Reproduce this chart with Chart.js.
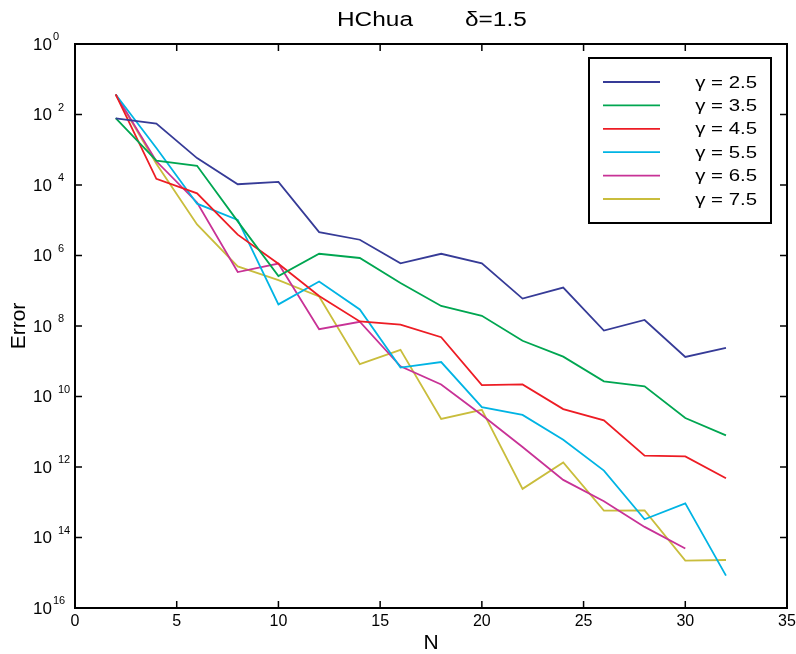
<!DOCTYPE html>
<html>
<head>
<meta charset="utf-8">
<script src="https://cdn.jsdelivr.net/npm/chart.js@4.4.0/dist/chart.umd.min.js"></script>
<style>
  html, body { margin: 0; padding: 0; background: #fff; }
</style>
</head>
<body>
<canvas id="myChart" width="796" height="654"></canvas>
<script>
// data
const N = [2, 4, 6, 8, 10, 12, 14, 16, 18, 20, 22, 24, 26, 28, 30, 32];
const err25 = [7.8e-3, 5.5e-3, 5.8e-4, 1.05e-4, 1.23e-4, 4.6e-6, 2.8e-6, 6.0e-7, 1.12e-6, 6.0e-7, 6.0e-8, 1.23e-7, 7.4e-9, 1.48e-8, 1.32e-9, 2.4e-9];
const err35 = [7.9e-3, 4.9e-4, 3.5e-4, 9.3e-6, 2.6e-7, 1.12e-6, 8.5e-7, 1.66e-7, 3.7e-8, 1.95e-8, 3.8e-9, 1.35e-9, 2.7e-10, 1.95e-10, 2.45e-11, 7.9e-12];
const err45 = [3.7e-2, 1.5e-4, 5.8e-5, 3.9e-6, 5.8e-7, 7.1e-8, 1.35e-8, 1.1e-8, 4.8e-9, 2.1e-10, 2.2e-10, 4.4e-11, 2.1e-11, 2.1e-12, 2.0e-12, 4.8e-13];
const err55 = [3.7e-2, 1.12e-3, 2.95e-5, 1.02e-5, 4.1e-8, 1.82e-7, 2.95e-8, 6.6e-10, 9.5e-10, 5.0e-11, 3.0e-11, 5.9e-12, 7.9e-13, 3.3e-14, 9.3e-14, 8.3e-16];
const err65 = [3.7e-2, 4.7e-4, 3.2e-5, 3.4e-7, 5.9e-7, 8.1e-9, 1.32e-8, 7.2e-10, 2.2e-10, 3.0e-11, 3.7e-12, 4.3e-13, 1.07e-13, 2.0e-14, 4.9e-15];
const err75 = [3.7e-2, 4.0e-4, 7.6e-6, 4.9e-7, 2.0e-7, 6.9e-8, 8.3e-10, 2.1e-9, 2.3e-11, 4.2e-11, 2.4e-13, 1.35e-12, 5.8e-14, 5.9e-14, 2.2e-15, 2.3e-15];

const seriesLabels = ["\u03b3 = 2.5", "\u03b3 = 3.5", "\u03b3 = 4.5", "\u03b3 = 5.5", "\u03b3 = 6.5", "\u03b3 = 7.5"];
const seriesData = [err25, err35, err45, err55, err65, err75];
const colors = ["#363b97", "#00a651", "#ed1c24", "#00b4e4", "#c83296", "#c9bd3c"];

const xTicks = [0, 5, 10, 15, 20, 25, 30, 35];
const yTickExp = [0, -2, -4, -6, -8, -10, -12, -14, -16];

const FONT = '"Liberation Sans", Arial, sans-serif';

// draws the matlab-ish box, ticks, labels and legend
const boxPlugin = {
  id: "boxAxes",
  afterDraw: (chart) => {
    const { ctx, chartArea: a } = chart;
    const xs = chart.scales.x;
    const ys = chart.scales.y;
    ctx.save();
    ctx.strokeStyle = "#000";
    ctx.fillStyle = "#000";
    ctx.lineWidth = 2;
    ctx.strokeRect(a.left, a.top, a.right - a.left, a.bottom - a.top);

    // x ticks
    ctx.lineWidth = 1.5;
    ctx.font = "16px " + FONT;
    ctx.textAlign = "center";
    ctx.textBaseline = "middle";
    xTicks.forEach((t) => {
      const px = xs.getPixelForValue(t);
      ctx.beginPath();
      ctx.moveTo(px, a.bottom);
      ctx.lineTo(px, a.bottom - 7);
      ctx.moveTo(px, a.top);
      ctx.lineTo(px, a.top + 7);
      ctx.stroke();
      ctx.fillText(String(t), px, a.bottom + 14);
    });

    // y ticks, 10^e labels (minus sign missing like the original)
    yTickExp.forEach((e) => {
      const py = ys.getPixelForValue(Math.pow(10, e));
      ctx.beginPath();
      ctx.moveTo(a.left, py);
      ctx.lineTo(a.left + 7, py);
      ctx.moveTo(a.right, py);
      ctx.lineTo(a.right - 7, py);
      ctx.stroke();
      ctx.font = "17px " + FONT;
      ctx.textAlign = "right";
      ctx.fillText("10", 52, py + 1);
      ctx.font = "11px " + FONT;
      ctx.textAlign = "left";
      const gap = e === 0 || e === -16 ? 1 : 6;
      ctx.fillText(String(Math.abs(e)), 52 + gap, py - 7);
    });

    // axis titles
    ctx.font = "21px " + FONT;
    ctx.textAlign = "center";
    ctx.fillText("N", (a.left + a.right) / 2, 643);
    ctx.save();
    ctx.translate(19, (a.top + a.bottom) / 2);
    ctx.rotate(-Math.PI / 2);
    ctx.fillText("Error", 0, 0);
    ctx.restore();

    // title
    ctx.font = "20px " + FONT;
    ctx.textAlign = "left";
    ctx.save();
    ctx.translate(337, 20);
    ctx.scale(1.22, 1);
    ctx.fillText("HChua", 0, 0);
    ctx.restore();
    ctx.save();
    ctx.translate(465, 20);
    ctx.scale(1.22, 1);
    ctx.fillText("\u03b4=1.5", 0, 0);
    ctx.restore();

    // legend
    ctx.fillStyle = "#fff";
    ctx.fillRect(589, 58, 182, 165);
    ctx.lineWidth = 2;
    ctx.strokeStyle = "#000";
    ctx.strokeRect(589, 58, 182, 165);
    ctx.font = "17px " + FONT;
    ctx.textAlign = "right";
    seriesLabels.forEach((lab, i) => {
      const ry = 82 + i * 23.4;
      ctx.strokeStyle = colors[i];
      ctx.lineWidth = 1.8;
      ctx.beginPath();
      ctx.moveTo(603, ry);
      ctx.lineTo(660, ry);
      ctx.stroke();
      ctx.fillStyle = "#000";
      ctx.save();
      ctx.translate(757, ry + 1);
      ctx.scale(1.2, 1);
      ctx.fillText(lab, 0, 0);
      ctx.restore();
    });
    ctx.restore();
  },
};

const datasets = seriesData.map((vals, i) => ({
  label: seriesLabels[i],
  data: vals.map((v, j) => ({ x: N[j], y: v })),
  borderColor: colors[i],
  backgroundColor: colors[i],
  borderWidth: 1.8,
  pointRadius: 0,
  tension: 0,
  fill: false,
}));

new Chart(document.getElementById("myChart"), {
  type: "line",
  data: { datasets: datasets },
  options: {
    responsive: false,
    animation: false,
    layout: { padding: { left: 75, right: 9, top: 44, bottom: 46 } },
    plugins: {
      legend: { display: false },
      tooltip: { enabled: false },
      title: { display: false },
    },
    scales: {
      x: { type: "linear", min: 0, max: 35, display: false },
      y: { type: "logarithmic", min: 1e-16, max: 1, display: false },
    },
  },
  plugins: [boxPlugin],
});
</script>
</body>
</html>
